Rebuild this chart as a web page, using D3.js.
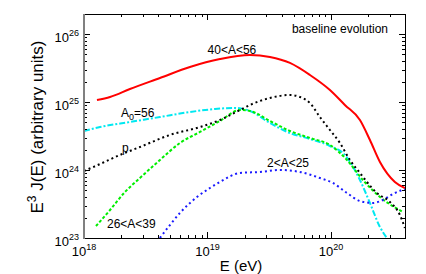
<!DOCTYPE html>
<html>
<head>
<meta charset="utf-8">
<script src="https://cdn.jsdelivr.net/npm/d3@7"></script>
<style>
  body { margin: 0; background: #fff; }
  svg { display: block; font-family: "Liberation Sans", Arial, sans-serif; }
</style>
</head>
<body>
<svg id="chart" width="426" height="274"></svg>
<script>
// values, as log10 exponents
const heavyLogE = [18.105, 18.211, 18.372, 18.615, 18.858, 19.101, 19.344, 19.506, 19.668, 19.830, 19.992, 20.113, 20.235, 20.316, 20.397, 20.518, 20.599];
const heavyLogJ = [25.029, 25.074, 25.191, 25.353, 25.515, 25.632, 25.691, 25.662, 25.574, 25.397, 25.176, 24.956, 24.735, 24.441, 24.118, 23.824, 23.735];

const injLogE = [18.000, 18.130, 18.372, 18.615, 18.858, 19.061, 19.223, 19.344, 19.506, 19.668, 19.830, 19.992, 20.113, 20.170, 20.235, 20.316, 20.397, 20.453];
const injLogJ = [24.574, 24.632, 24.706, 24.779, 24.853, 24.897, 24.912, 24.868, 24.691, 24.544, 24.456, 24.353, 24.221, 24.074, 23.853, 23.515, 23.162, 23.000];

const midLogE = [18.097, 18.211, 18.332, 18.453, 18.615, 18.777, 18.939, 19.101, 19.263, 19.344, 19.506, 19.668, 19.830, 19.992, 20.130, 20.259, 20.397, 20.583];
const midLogJ = [23.176, 23.412, 23.676, 23.882, 24.147, 24.397, 24.559, 24.721, 24.882, 24.868, 24.721, 24.574, 24.471, 24.368, 24.147, 23.853, 23.603, 23.382];

const protonLogE = [18.000, 18.130, 18.291, 18.453, 18.696, 18.939, 19.101, 19.263, 19.344, 19.506, 19.668, 19.749, 19.830, 19.911, 19.992, 20.073, 20.154, 20.235, 20.372, 20.478, 20.559, 20.599];
const protonLogJ = [23.985, 24.088, 24.221, 24.338, 24.515, 24.632, 24.735, 24.882, 24.956, 25.059, 25.103, 25.074, 24.985, 24.779, 24.588, 24.397, 24.147, 23.956, 23.662, 23.529, 23.338, 23.147];

const lightLogE = [18.615, 18.696, 18.777, 18.915, 19.020, 19.101, 19.263, 19.425, 19.587, 19.749, 19.911, 20.016, 20.130, 20.235, 20.340, 20.421, 20.502, 20.599];
const lightLogJ = [23.000, 23.191, 23.368, 23.603, 23.735, 23.824, 23.956, 23.971, 24.000, 23.971, 23.882, 23.809, 23.662, 23.544, 23.515, 23.559, 23.647, 23.721];

const xDecades = [18, 19, 20];
const yDecades = [23, 24, 25, 26];

const series = [
    { e: injLogE, j: injLogJ, color: '#00e8f0', dash: '6,2,2,2' },
    { e: midLogE, j: midLogJ, color: '#00ee00', dash: '3,2' },
    { e: lightLogE, j: lightLogJ, color: '#1a1aff', dash: '2,3' },
    { e: protonLogE, j: protonLogJ, color: '#000000', dash: '2,3' },
    { e: heavyLogE, j: heavyLogJ, color: '#ff0000', dash: null }
];

// curve labels, placed in data coordinates
const labels = [
    { text: '40<A<56', e: 19.198, j: 25.706, anchor: 'middle' },
    { text: 'A', sub: '0', rest: '=56', e: 18.300, j: 24.779, anchor: 'start' },
    { text: 'p', e: 18.308, j: 24.265, anchor: 'start' },
    { text: '26<A<39', e: 18.186, j: 23.147, anchor: 'start' },
    { text: '2<A<25', e: 19.482, j: 24.044, anchor: 'start' }
];

const svg = d3.select('#chart');
const plotL = 84, plotR = 405, plotT = 14, plotB = 238;

const x = d3.scaleLog().domain([1e18, Math.pow(10, 20.6)]).range([plotL, plotR]);
const y = d3.scaleLog().domain([1e23, Math.pow(10, 26.294)]).range([plotB, plotT]);

svg.append('clipPath').attr('id', 'plot')
    .append('rect').attr('x', plotL).attr('y', plotT)
    .attr('width', plotR - plotL).attr('height', plotB - plotT);

const line = d3.line()
    .x(d => x(Math.pow(10, d[0])))
    .y(d => y(Math.pow(10, d[1])))
    .curve(d3.curveMonotoneX);

const g = svg.append('g').attr('clip-path', 'url(#plot)');
series.forEach(s => {
    const pts = s.e.map((v, i) => [v, s.j[i]]);
    g.append('path')
        .attr('d', line(pts))
        .attr('fill', 'none')
        .attr('stroke', s.color)
        .attr('stroke-width', 2)
        .attr('stroke-dasharray', s.dash);
});

// ticks on all four sides, pointing inward
const ticks = svg.append('g').attr('stroke', '#000').attr('stroke-width', 1);
function tickList(decades, maxExp) {
    const out = [];
    decades.forEach(d => {
        for (let m = 1; m < 10; m++) {
            const v = m * Math.pow(10, d);
            if (Math.log10(v) <= maxExp) out.push({ v, major: m === 1 });
        }
    });
    return out;
}
tickList(xDecades, 20.6).forEach(t => {
    const px = Math.round(x(t.v)) + 0.5;
    const len = t.major ? 6 : 3;
    ticks.append('line').attr('x1', px).attr('x2', px).attr('y1', plotB).attr('y2', plotB - len);
    ticks.append('line').attr('x1', px).attr('x2', px).attr('y1', plotT).attr('y2', plotT + len);
});
tickList(yDecades, 26.294).forEach(t => {
    const py = Math.round(y(t.v)) + 0.5;
    const len = t.major ? 6 : 3;
    ticks.append('line').attr('y1', py).attr('y2', py).attr('x1', plotL).attr('x2', plotL + len);
    ticks.append('line').attr('y1', py).attr('y2', py).attr('x1', plotR).attr('x2', plotR - len);
});

// frame
svg.append('rect')
    .attr('x', plotL + 0.5).attr('y', plotT + 0.5)
    .attr('width', plotR - plotL).attr('height', plotB - plotT)
    .attr('fill', 'none').attr('stroke', '#000').attr('stroke-width', 1);
svg.append('line')
    .attr('x1', plotL).attr('x2', plotL).attr('y1', plotT).attr('y2', plotB + 1)
    .attr('stroke', '#808080').attr('stroke-width', 2);

// tick labels 10^n
xDecades.forEach(d => {
    const t = svg.append('text')
        .attr('x', x(Math.pow(10, d))).attr('y', plotB + 18)
        .attr('text-anchor', 'middle').attr('font-size', 13);
    t.append('tspan').text('10');
    t.append('tspan').attr('font-size', 9).attr('dy', -6).text(d);
});
yDecades.forEach(d => {
    const t = svg.append('text')
        .attr('x', plotL - 5).attr('y', y(Math.pow(10, d)) + 8)
        .attr('text-anchor', 'end').attr('font-size', 13);
    t.append('tspan').text('10');
    t.append('tspan').attr('font-size', 9).attr('dy', -6).text(d);
});

// axis titles
svg.append('text')
    .attr('x', 241).attr('y', 271)
    .attr('text-anchor', 'middle').attr('font-size', 15)
    .text('E (eV)');
const yl = svg.append('text')
    .attr('transform', 'translate(43,127) rotate(-90)')
    .attr('text-anchor', 'middle').attr('font-size', 17);
yl.append('tspan').text('E');
yl.append('tspan').attr('font-size', 12).attr('dy', -7).text('3');
yl.append('tspan').attr('dy', 7).text(' J(E) (arbitrary units)');

// curve labels
labels.forEach(l => {
    const t = svg.append('text')
        .attr('x', x(Math.pow(10, l.e))).attr('y', y(Math.pow(10, l.j)))
        .attr('text-anchor', l.anchor).attr('font-size', 12);
    t.append('tspan').text(l.text);
    if (l.sub) {
        t.append('tspan').attr('font-size', 9).attr('dy', 3).text(l.sub);
        t.append('tspan').attr('dy', -3).text(l.rest);
    }
});

svg.append('text')
    .attr('x', plotR - 17).attr('y', plotT + 19)
    .attr('text-anchor', 'end').attr('font-size', 12)
    .text('baseline evolution');
</script>
</body>
</html>
